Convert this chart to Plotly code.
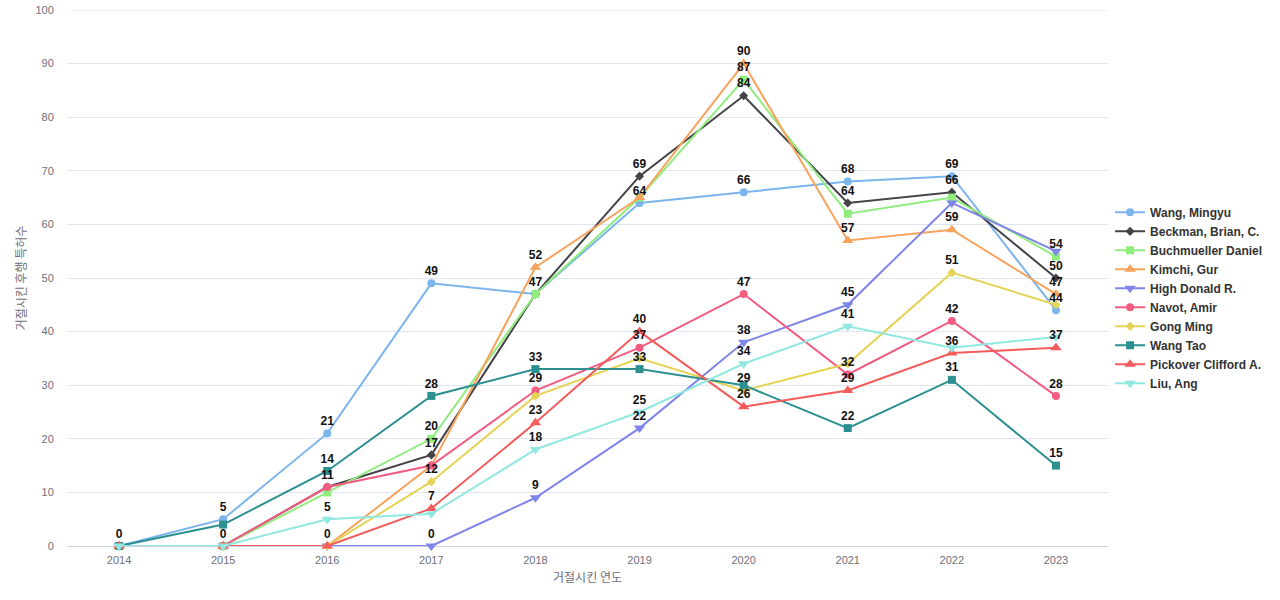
import plotly.graph_objects as go

years = [2014, 2015, 2016, 2017, 2018, 2019, 2020, 2021, 2022, 2023]

series_names = [
    "Wang, Mingyu", "Beckman, Brian, C.", "Buchmueller Daniel", "Kimchi, Gur",
    "High Donald R.", "Navot, Amir", "Gong Ming", "Wang Tao",
    "Pickover Clifford A.", "Liu, Ang",
]

wang_mingyu = [0, 5, 21, 49, 47, 64, 66, 68, 69, 44]
beckman = [0, 0, 11, 17, 47, 69, 84, 64, 66, 50]
buchmueller = [0, 0, 10, 20, 47, 65, 87, 62, 65, 54]
kimchi = [0, 0, 0, 15, 52, 65, 90, 57, 59, 47]
high_donald = [0, 0, 0, 0, 9, 22, 38, 45, 64, 55]
navot = [0, 0, 11, 15, 29, 37, 47, 32, 42, 28]
gong_ming = [0, 0, 0, 12, 28, 35, 29, 34, 51, 45]
wang_tao = [0, 4, 14, 28, 33, 33, 30, 22, 31, 15]
pickover = [0, 0, 0, 7, 23, 40, 26, 29, 36, 37]
liu_ang = [0, 0, 5, 6, 18, 25, 34, 41, 37, 39]

all_values = [wang_mingyu, beckman, buchmueller, kimchi, high_donald,
              navot, gong_ming, wang_tao, pickover, liu_ang]

colors = ["#7CB5EC", "#434348", "#90ED7D", "#F7A35C", "#8085E9",
          "#F15C80", "#E4D354", "#2B908F", "#F45B5B", "#91E8E1"]
symbols = ["circle", "diamond", "square", "triangle-up", "triangle-down",
           "circle", "diamond", "square", "triangle-up", "triangle-down"]
symbol_sizes = {"circle": 8, "diamond": 7, "square": 8,
                "triangle-up": 10, "triangle-down": 10}

W, H = 1280, 600
m_l, m_r, m_t, m_b = 67, 172, 10, 54
plot_h = H - m_t - m_b
y_max = 100
px_per_unit = plot_h / y_max
min_gap_px = 13

# hide overlapping labels (first series wins), like the original chart
placed = {i: [] for i in range(len(years))}
texts = []
for vals in all_values:
    t = []
    for i, v in enumerate(vals):
        ok = all(abs(v - p) * px_per_unit >= min_gap_px for p in placed[i])
        if ok:
            placed[i].append(v)
            t.append(str(v))
        else:
            t.append("")
    texts.append(t)

fig = go.Figure()
for name, vals, c, s in zip(series_names, all_values, colors, symbols):
    fig.add_trace(go.Scatter(
        x=years, y=vals, name=name, mode="lines+markers",
        line=dict(color=c, width=2),
        marker=dict(color=c, symbol=s, size=symbol_sizes[s]),
        cliponaxis=False,
    ))
# value labels drawn on top of all lines (invisible markers keep the offset)
for name, vals, s, t in zip(series_names, all_values, symbols, texts):
    fig.add_trace(go.Scatter(
        x=years, y=vals, mode="markers+text", text=t, textposition="top center",
        marker=dict(size=7, color="rgba(0,0,0,0)"),
        textfont=dict(family="Liberation Sans, Arial, sans-serif", size=12,
                      color="#111111", weight="bold"),
        showlegend=False, hoverinfo="skip", cliponaxis=False, name=name,
    ))

fig.add_shape(type="line", xref="paper", x0=0, x1=1, yref="y", y0=y_max, y1=y_max,
              line=dict(color="#E0E6F1", width=1), layer="below")

fig.update_layout(
    width=W, height=H,
    margin=dict(l=m_l, r=m_r, t=m_t, b=m_b, autoexpand=False),
    plot_bgcolor="white", paper_bgcolor="white",
    font=dict(family="Liberation Sans, Arial, Noto Sans CJK KR, sans-serif", color="#6E7079", size=11),
    showlegend=True,
    legend=dict(
        x=1.002, xanchor="left", y=0.463, yanchor="middle",
        font=dict(size=12, color="#333333", family="Liberation Sans, Arial, sans-serif", weight="bold"),
        itemwidth=30, tracegroupgap=0, bgcolor="rgba(0,0,0,0)",
    ),
    xaxis=dict(
        title=dict(text="거절시킨 연도", font=dict(size=12, color="#6E7079", family="Noto Sans CJK KR, sans-serif"), standoff=8),
        range=[2013.5, 2023.5], tickmode="array", tickvals=years,
        ticktext=[str(y) for y in years], automargin=False,
        showgrid=False, zeroline=False, showline=False,
        ticks="outside", ticklen=4, tickcolor="rgba(0,0,0,0)",
        tickfont=dict(size=11, color="#6E7079"),
    ),
    yaxis=dict(
        title=dict(text="거절시킨 후행 특허수", font=dict(size=12, color="#6E7079", family="Noto Sans CJK KR, sans-serif"), standoff=6),
        range=[0, y_max], dtick=10, showgrid=True, gridcolor="#E0E6F1",
        zeroline=True, zerolinecolor="#C8D3E6", zerolinewidth=1, automargin=False,
        showline=False, ticks="outside", ticklen=10, tickcolor="rgba(0,0,0,0)",
        tickfont=dict(size=11, color="#6E7079"),
    ),
)

fig.write_html("out.html", config={"displayModeBar": False},
               post_script="document.body.style.margin='0';")
